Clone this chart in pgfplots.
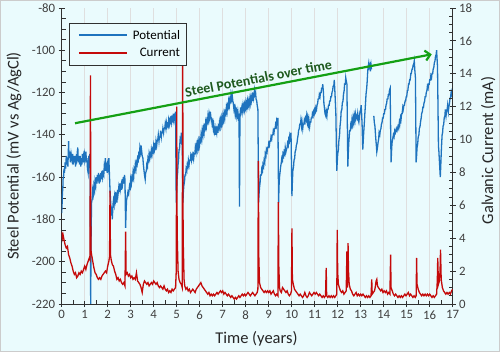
\documentclass[border=0pt]{standalone}
\usepackage{pgfplots}
\pgfplotsset{compat=1.18}
\usepackage{fontspec}
\setmainfont{Carlito}
\usetikzlibrary{arrows.meta}
\definecolor{bg}{HTML}{EAFBFD}
\definecolor{potblue}{RGB}{30,115,190}
\definecolor{curred}{RGB}{196,10,10}
\definecolor{arrgreen}{RGB}{20,160,20}
\definecolor{txtgreen}{RGB}{30,90,30}
\definecolor{axcol}{HTML}{303030}
\definecolor{tickcol}{HTML}{404040}

\pgfplotsset{
 common/.style={
  scale only axis, width=391bp, height=296bp, at={(61.7bp,48bp)}, anchor=south west,
  xmin=0, xmax=17,
  axis line style={-, draw=axcol, line width=1bp},
  tick style={draw=axcol, line width=0.8bp},
  tick align=center, major tick length=6bp, minor tick length=4bp,
  /pgf/number format/assume math mode=true,
  ticklabel style={font=\fontsize{12.8bp}{15bp}\selectfont, text=tickcol},
  label style={font=\fontsize{16.5bp}{19bp}\selectfont, text=black!85},
 }
}

\begin{document}
\begin{tikzpicture}
\fill[bg] (0,0) rectangle (500bp,352bp);
\draw[gray!40, line width=0.8bp] (0.4bp,0.4bp) rectangle (499.6bp,351.6bp);
\begin{axis}[common,
  ymin=-220, ymax=-80, ytick={-220,-200,...,-80}, minor y tick num=3,
  xtick={0,...,17}, minor x tick num=1,
  axis x line*=bottom, axis y line*=left,
  xmajorgrids, major grid style={draw=gray!25, line width=0.7bp},
  every minor x tick/.append style={yshift=2bp},
  every minor y tick/.append style={xshift=2bp},
  xlabel={Time (years)}, ylabel={Steel Potential (mV vs Ag/AgCl)},
  xlabel style={at={(axis description cs:0.498,-0.118)}, anchor=center},
  ylabel style={at={(axis description cs:-0.122,0.5)}, anchor=center},
  ]
\addplot[potblue, line width=1.3bp] table {
0.00 -177
0.02 -172
0.03 -168
0.05 -165
0.06 -161
0.08 -160
0.10 -156
0.12 -158
0.15 -153
0.17 -156
0.20 -150
0.22 -154
0.25 -151
0.27 -155
0.30 -143
0.32 -151
0.35 -148
0.38 -153
0.41 -149
0.45 -152
0.48 -149
0.50 -154
0.53 -150
0.55 -153
0.58 -150
0.60 -155
0.63 -151
0.65 -152
0.68 -148
0.70 -146
0.72 -153
0.75 -150
0.78 -154
0.80 -150
0.83 -155
0.85 -151
0.88 -154
0.90 -149
0.93 -153
0.95 -150
0.98 -152
1.00 -149
1.03 -151
1.05 -148
1.08 -153
1.10 -151
1.12 -156
1.15 -158
1.18 -150
1.20 -152
1.22 -149
1.24 -160
1.26 -220
1.28 -185
1.30 -172
1.33 -170
1.35 -166
1.38 -168
1.40 -164
1.43 -166
1.45 -162
1.48 -164
1.50 -160
1.53 -163
1.55 -159
1.58 -162
1.60 -158
1.63 -163
1.65 -160
1.68 -161
1.70 -158
1.73 -161
1.75 -157
1.78 -160
1.80 -158
1.83 -159
1.85 -155
1.88 -157
1.90 -151
1.92 -157
1.95 -155
1.98 -158
2.00 -154
2.03 -156
2.05 -151
2.08 -160
2.10 -166
2.13 -172
2.15 -176
2.18 -174
2.20 -180
2.23 -173
2.25 -171
2.28 -173
2.30 -169
2.33 -171
2.35 -167
2.38 -170
2.40 -172
2.43 -166
2.45 -168
2.48 -165
2.50 -167
2.53 -163
2.55 -166
2.58 -164
2.60 -166
2.63 -161
2.65 -163
2.68 -160
2.70 -163
2.73 -159
2.75 -161
2.78 -184
2.80 -176
2.82 -171
2.85 -169
2.88 -167
2.91 -168
2.95 -164
2.98 -165
3.00 -161
3.03 -163
3.05 -160
3.08 -161
3.10 -158
3.13 -160
3.15 -156
3.18 -157
3.20 -154
3.23 -156
3.25 -153
3.28 -154
3.30 -151
3.33 -152
3.35 -149
3.38 -150
3.40 -146
3.43 -148
3.45 -145
3.48 -148
3.50 -150
3.53 -151
3.55 -154
3.58 -157
3.60 -159
3.63 -161
3.65 -158
3.68 -157
3.70 -154
3.73 -155
3.75 -151
3.78 -152
3.80 -149
3.83 -151
3.85 -149
3.88 -150
3.90 -147
3.93 -149
3.95 -147
3.98 -148
4.00 -145
4.03 -147
4.05 -145
4.08 -146
4.10 -143
4.13 -145
4.15 -143
4.18 -142
4.20 -140
4.23 -143
4.25 -141
4.28 -141
4.30 -138
4.33 -141
4.35 -139
4.38 -139
4.40 -137
4.43 -139
4.45 -137
4.48 -137
4.50 -135
4.53 -137
4.55 -134
4.58 -136
4.60 -135
4.63 -136
4.65 -133
4.68 -135
4.70 -133
4.73 -134
4.75 -131
4.78 -134
4.80 -132
4.83 -133
4.85 -130
4.88 -133
4.90 -131
4.93 -132
4.95 -129
4.98 -172
5.00 -166
5.02 -160
5.04 -158
5.06 -154
5.08 -152
5.10 -147
5.12 -147
5.15 -142
5.18 -143
5.20 -139
5.22 -141
5.24 -142
5.27 -172
5.29 -167
5.31 -164
5.34 -162
5.36 -159
5.39 -159
5.41 -156
5.44 -157
5.46 -154
5.49 -155
5.51 -152
5.54 -154
5.56 -152
5.59 -152
5.61 -150
5.64 -152
5.66 -150
5.69 -151
5.71 -148
5.74 -151
5.76 -149
5.79 -149
5.81 -146
5.84 -148
5.86 -145
5.89 -147
5.91 -144
5.94 -146
5.96 -143
5.99 -145
6.01 -142
6.04 -143
6.06 -140
6.09 -142
6.11 -138
6.14 -140
6.16 -137
6.19 -139
6.21 -136
6.24 -137
6.26 -134
6.29 -136
6.31 -133
6.34 -134
6.36 -131
6.39 -133
6.41 -130
6.44 -132
6.46 -129
6.49 -132
6.51 -132
6.54 -135
6.56 -134
6.59 -137
6.61 -135
6.64 -138
6.66 -136
6.69 -140
6.71 -137
6.74 -139
6.76 -136
6.79 -139
6.81 -136
6.84 -137
6.86 -134
6.89 -136
6.91 -133
6.94 -135
6.96 -132
6.99 -134
7.01 -131
7.04 -133
7.06 -130
7.09 -132
7.11 -129
7.14 -130
7.16 -127
7.19 -129
7.21 -126
7.24 -127
7.26 -124
7.29 -126
7.31 -123
7.34 -124
7.36 -121
7.39 -123
7.41 -121
7.44 -124
7.46 -125
7.49 -128
7.51 -127
7.54 -130
7.56 -128
7.59 -131
7.61 -129
7.64 -131
7.66 -129
7.69 -132
7.71 -130
7.73 -174
7.75 -131
7.78 -127
7.80 -129
7.83 -127
7.85 -129
7.88 -126
7.90 -128
7.93 -126
7.95 -128
7.98 -125
8.00 -127
8.03 -125
8.05 -127
8.08 -124
8.10 -126
8.13 -124
8.15 -126
8.18 -123
8.20 -125
8.23 -122
8.25 -124
8.28 -122
8.30 -124
8.33 -120
8.35 -122
8.38 -119
8.40 -121
8.43 -120
8.45 -123
8.48 -124
8.50 -126
8.53 -128
8.56 -172
8.58 -168
8.60 -165
8.63 -162
8.65 -159
8.68 -159
8.70 -156
8.73 -157
8.75 -154
8.78 -155
8.80 -152
8.83 -153
8.85 -149
8.88 -150
8.90 -147
8.93 -148
8.95 -146
8.98 -146
9.00 -144
9.03 -145
9.05 -143
9.08 -143
9.10 -141
9.13 -142
9.15 -140
9.18 -140
9.20 -138
9.23 -139
9.25 -137
9.28 -137
9.30 -135
9.33 -136
9.35 -133
9.38 -134
9.40 -132
9.43 -172
9.45 -164
9.47 -160
9.50 -157
9.52 -155
9.55 -153
9.57 -151
9.60 -152
9.62 -149
9.65 -150
9.67 -148
9.70 -149
9.72 -146
9.75 -148
9.77 -147
9.80 -146
9.82 -144
9.85 -145
9.87 -142
9.90 -143
9.92 -140
9.95 -141
9.97 -139
10.01 -169
10.03 -162
10.05 -157
10.08 -155
10.10 -152
10.13 -151
10.15 -148
10.18 -147
10.20 -145
10.23 -144
10.25 -142
10.28 -140
10.30 -138
10.33 -137
10.35 -135
10.38 -135
10.40 -133
10.43 -136
10.45 -134
10.48 -137
10.50 -135
10.53 -135
10.55 -133
10.58 -134
10.60 -132
10.63 -133
10.65 -131
10.68 -134
10.70 -132
10.73 -135
10.75 -133
10.78 -136
10.80 -134
10.83 -134
10.85 -132
10.88 -132
10.90 -130
10.93 -131
10.95 -129
10.98 -130
11.00 -128
11.03 -129
11.05 -127
11.08 -128
11.10 -126
11.13 -125
11.15 -123
11.18 -123
11.20 -121
11.23 -122
11.25 -120
11.28 -120
11.30 -118
11.33 -118
11.35 -116
11.38 -120
11.40 -125
11.43 -128
11.45 -130
11.48 -131
11.50 -129
11.53 -131
11.55 -128
11.58 -128
11.60 -126
11.63 -126
11.65 -124
11.68 -124
11.70 -122
11.73 -122
11.75 -120
11.78 -119
11.80 -117
11.83 -117
11.85 -114
11.88 -120
11.92 -130
11.96 -157
11.98 -153
12.00 -149
12.03 -147
12.05 -143
12.08 -140
12.10 -136
12.13 -133
12.15 -129
12.18 -128
12.20 -125
12.23 -124
12.25 -121
12.28 -119
12.30 -116
12.33 -116
12.35 -113
12.38 -115
12.40 -116
12.44 -155
12.46 -149
12.48 -144
12.50 -141
12.52 -138
12.55 -138
12.57 -135
12.60 -136
12.62 -133
12.65 -135
12.67 -132
12.70 -134
12.72 -131
12.75 -133
12.77 -130
12.80 -132
12.82 -131
12.85 -132
12.87 -130
12.90 -133
12.92 -134
12.95 -131
12.97 -129
13.00 -128
13.02 -126
13.04 -130
13.06 -135
13.09 -147
13.11 -143
13.13 -139
13.16 -134
13.18 -130
13.21 -125
13.23 -121
13.26 -118
13.28 -115
13.30 -111
13.32 -108
13.35 -106
13.37 -108
13.40 -107
13.42 -110
13.45 -107
13.47 -109
};
\addplot[potblue, line width=1.3bp] table {
13.57 -131
13.59 -134
13.62 -136
13.65 -141
13.68 -145
13.70 -148
13.73 -146
13.75 -144
13.78 -142
13.80 -139
13.83 -140
13.85 -138
13.88 -137
13.90 -135
13.93 -134
13.95 -132
13.98 -132
14.00 -130
14.03 -130
14.05 -128
14.08 -128
14.10 -126
14.13 -125
14.15 -123
14.18 -123
14.20 -121
14.23 -121
14.25 -119
14.28 -118
14.32 -153
14.34 -148
14.36 -144
14.39 -142
14.42 -140
14.45 -141
14.48 -138
14.51 -139
14.55 -137
14.58 -138
14.62 -136
14.65 -137
14.68 -134
14.70 -135
14.73 -132
14.75 -133
14.78 -130
14.80 -130
14.83 -127
14.85 -128
14.88 -126
14.90 -126
14.93 -124
14.95 -124
14.98 -122
15.00 -122
15.03 -119
15.05 -119
15.08 -116
15.10 -116
15.13 -114
15.15 -114
15.18 -111
15.20 -111
15.23 -109
15.25 -109
15.28 -107
15.30 -107
15.33 -105
15.35 -109
15.38 -113
15.41 -153
15.43 -150
15.45 -146
15.48 -144
15.50 -141
15.53 -140
15.55 -137
15.58 -136
15.60 -134
15.63 -132
15.65 -130
15.68 -129
15.70 -127
15.73 -127
15.75 -125
15.78 -124
15.80 -122
15.83 -122
15.85 -120
15.88 -119
15.90 -117
15.93 -118
15.95 -116
15.98 -116
16.00 -114
16.03 -114
16.05 -112
16.08 -113
16.10 -111
16.13 -111
16.15 -109
16.18 -108
16.20 -106
16.23 -105
16.25 -103
16.28 -102
16.30 -100
16.32 -104
16.34 -108
16.38 -145
16.40 -148
16.42 -152
16.44 -156
16.46 -160
16.48 -155
16.50 -149
16.52 -144
16.54 -140
16.56 -139
16.58 -136
16.61 -135
16.63 -132
16.66 -131
16.68 -128
16.71 -131
16.73 -129
16.76 -128
16.78 -126
16.81 -129
16.83 -127
16.86 -125
16.88 -123
16.91 -122
16.93 -120
16.96 -121
16.98 -118
17.00 -120
};
\coordinate (A) at (axis cs:0.58,-134.5);
\coordinate (B) at (axis cs:16.09,-101.9);
\end{axis}
\begin{axis}[common,
  ymin=0, ymax=18, ytick={0,2,...,18}, minor y tick num=3,
  axis y line*=right, hide x axis,
  every minor y tick/.append style={xshift=-2bp},
  ylabel={Galvanic Current (mA)},
  ylabel style={at={(axis description cs:1.091,0.519)}, anchor=center},
  legend cell align=right,
  legend style={at={(axis description cs:0.0194,0.950)}, anchor=north west,
    draw=axcol, fill=bg, font=\fontsize{13bp}{15bp}\selectfont,
    inner xsep=4bp, inner ysep=5bp, row sep=3.5bp, column sep=3bp,
    nodes={inner sep=2bp}},
  legend image code/.code={\path (-4.7bp,0bp); \draw[#1, line width=2bp] (0bp,0bp) -- (48bp,0bp);},
  ]
\addlegendimage{potblue}
\addlegendentry{Potential}
\addplot[curred, line width=1.3bp] table {
0.00 4.4
0.03 4.0
0.06 4.2
0.10 3.9
0.15 3.6
0.20 3.4
0.25 3.5
0.30 3.0
0.35 2.8
0.40 2.5
0.45 2.3
0.50 2.0
0.55 1.8
0.60 1.9
0.65 1.6
0.70 1.7
0.75 1.9
0.80 1.8
0.85 2.0
0.90 1.9
0.95 2.1
1.00 2.3
1.05 2.1
1.10 2.4
1.15 2.6
1.20 2.8
1.23 2.7
1.25 13.9
1.27 3.3
1.30 3.0
1.35 2.6
1.40 2.2
1.45 1.9
1.50 1.8
1.55 1.6
1.60 1.5
1.65 1.6
1.70 1.5
1.75 1.7
1.80 1.8
1.85 1.9
1.90 2.0
1.95 1.9
2.00 2.3
2.05 2.6
2.08 2.9
2.10 6.9
2.12 3.0
2.15 2.7
2.20 2.4
2.25 2.3
2.30 2.0
2.35 1.8
2.40 1.5
2.45 1.6
2.50 1.4
2.55 1.5
2.60 1.3
2.65 1.2
2.70 1.3
2.75 1.1
2.78 4.4
2.80 1.8
2.85 1.9
2.90 1.7
2.95 1.8
3.00 1.6
3.05 1.7
3.10 1.5
3.15 1.6
3.20 1.5
3.25 1.9
3.30 1.4
3.35 1.3
3.40 1.2
3.45 1.0
3.50 0.7
3.55 1.2
3.60 1.4
3.65 1.3
3.70 1.2
3.75 1.3
3.80 1.1
3.85 1.2
3.90 1.3
3.95 1.2
4.00 1.4
4.05 1.3
4.10 1.2
4.15 1.3
4.20 1.1
4.25 1.0
4.30 1.1
4.35 1.0
4.40 0.9
4.45 1.1
4.50 0.9
4.55 0.8
4.60 0.9
4.65 0.7
4.70 0.8
4.75 0.7
4.80 0.9
4.85 0.8
4.90 0.9
4.95 1.0
4.98 2.0
5.00 12.0
5.02 4.3
5.06 2.0
5.10 1.5
5.15 1.3
5.20 1.2
5.24 1.0
5.26 16.0
5.28 4.0
5.32 1.5
5.35 1.1
5.40 0.9
5.45 1.0
5.50 0.8
5.55 0.9
5.60 0.7
5.65 0.8
5.70 0.9
5.75 0.8
5.80 0.7
5.85 0.9
5.90 1.0
5.95 1.1
6.00 1.2
6.05 1.3
6.10 1.1
6.15 1.0
6.20 0.9
6.25 0.8
6.30 0.7
6.35 0.6
6.40 0.7
6.45 0.5
6.50 0.6
6.55 0.5
6.60 0.6
6.65 0.5
6.70 0.6
6.75 0.7
6.80 0.6
6.85 0.7
6.90 0.8
6.95 0.7
7.00 0.8
7.05 0.6
7.10 0.7
7.15 0.6
7.20 0.5
7.25 0.6
7.30 0.5
7.35 0.4
7.40 0.5
7.45 0.4
7.50 0.3
7.55 0.4
7.60 0.3
7.65 0.4
7.70 0.5
7.75 0.4
7.80 0.5
7.85 0.6
7.90 0.5
7.95 0.6
8.00 0.5
8.05 0.6
8.10 0.7
8.15 0.6
8.20 0.5
8.25 0.6
8.30 0.7
8.35 0.6
8.40 0.5
8.45 0.6
8.50 0.7
8.53 0.9
8.55 8.7
8.57 2.9
8.60 1.3
8.65 1.0
8.70 0.9
8.75 0.8
8.80 0.7
8.85 0.8
8.90 0.7
8.95 0.8
9.00 0.7
9.05 0.8
9.10 0.6
9.15 0.7
9.20 0.8
9.25 0.6
9.30 0.5
9.35 0.6
9.40 0.5
9.42 6.2
9.44 2.3
9.47 1.0
9.50 0.8
9.55 0.7
9.60 1.0
9.65 0.9
9.70 0.8
9.75 0.7
9.80 0.8
9.85 0.6
9.90 0.5
9.95 0.6
9.99 0.8
10.01 4.6
10.03 1.5
10.07 1.2
10.12 0.9
10.17 0.8
10.22 0.7
10.27 0.6
10.32 0.5
10.37 0.6
10.42 0.5
10.47 0.4
10.52 0.5
10.57 0.7
10.62 0.5
10.67 0.4
10.72 0.5
10.77 0.7
10.82 0.6
10.87 0.5
10.92 0.6
10.97 0.7
11.02 0.6
11.07 0.7
11.12 0.6
11.17 0.5
11.22 0.6
11.27 0.5
11.32 0.4
11.37 0.5
11.42 0.4
11.47 0.5
11.50 2.2
11.52 0.5
11.57 0.4
11.62 0.5
11.67 0.4
11.72 0.5
11.77 0.4
11.82 0.5
11.87 0.4
11.92 0.5
11.96 0.6
11.98 4.5
12.00 1.9
12.03 1.2
12.07 1.0
12.12 0.8
12.17 0.7
12.22 0.8
12.27 0.6
12.32 0.7
12.37 0.8
12.40 3.2
12.42 1.0
12.45 3.7
12.47 2.0
12.50 1.2
12.55 0.9
12.60 0.8
12.65 0.6
12.70 0.5
12.75 0.6
12.80 0.7
12.85 0.5
12.90 0.6
12.95 0.5
13.00 0.6
13.05 0.5
13.10 0.6
13.15 0.5
13.20 0.4
13.25 0.5
13.30 0.4
13.35 0.5
13.40 0.4
13.45 0.5
13.48 1.5
13.50 0.6
13.55 0.7
13.60 0.8
13.63 1.0
13.67 1.4
13.70 1.5
13.73 1.1
13.77 1.0
13.82 0.9
13.87 0.8
13.92 0.9
13.97 0.7
14.02 0.8
14.07 0.7
14.12 0.8
14.17 0.6
14.22 0.7
14.27 0.6
14.30 3.0
14.32 1.0
14.37 0.8
14.42 0.6
14.47 0.5
14.52 0.6
14.57 0.5
14.62 0.4
14.67 0.5
14.72 0.4
14.77 0.5
14.82 0.4
14.87 0.5
14.92 0.6
14.97 0.5
15.02 0.6
15.07 0.7
15.12 0.5
15.17 0.6
15.22 0.5
15.27 0.4
15.32 0.5
15.37 0.4
15.41 0.5
15.43 2.8
15.45 1.2
15.50 0.9
15.55 0.7
15.60 0.6
15.65 0.5
15.70 0.6
15.75 0.5
15.80 0.6
15.85 0.5
15.90 0.6
15.95 0.5
16.00 0.6
16.05 0.5
16.10 0.4
16.15 0.5
16.20 0.4
16.25 0.5
16.30 0.6
16.33 1.4
16.35 2.8
16.38 1.2
16.42 1.4
16.45 2.0
16.47 3.3
16.50 1.5
16.55 1.0
16.60 0.8
16.65 0.7
16.70 0.6
16.75 0.7
16.80 0.6
16.85 0.7
16.90 0.6
16.95 0.8
17.00 0.9
};
\addlegendentry{Current}
\end{axis}
\draw[arrgreen, line width=2.2bp, -{Straight Barb[length=5bp,width=10bp]}] (A) -- node[pos=0.519, above, sloped, text=txtgreen, font=\bfseries\fontsize{14bp}{16bp}\selectfont] {Steel Potentials over time} (B);
\pgfresetboundingbox
\path (0,0) rectangle (500bp,352bp);
\end{tikzpicture}
\end{document}
